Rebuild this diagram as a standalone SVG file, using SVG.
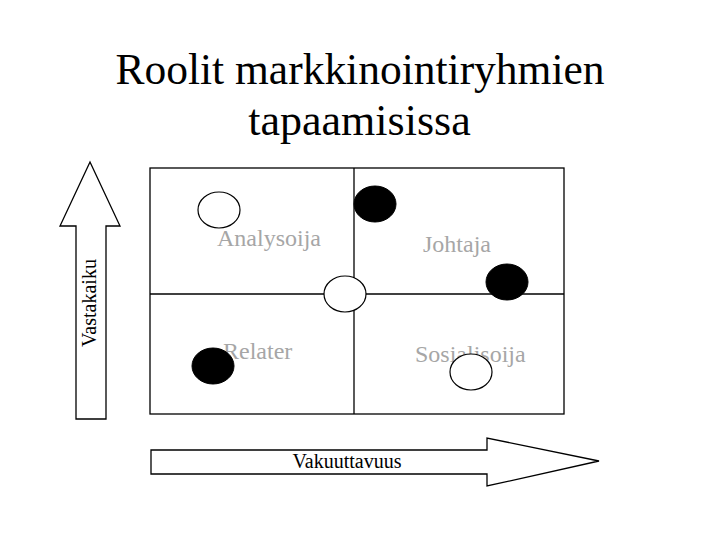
<svg xmlns="http://www.w3.org/2000/svg" width="720" height="540" viewBox="0 0 720 540">
<style>
.title{font-family:"Liberation Serif","Times New Roman",serif;font-size:44px;fill:#000;text-anchor:middle}
.lbl{font-family:"Liberation Serif","Times New Roman",serif;font-size:24px;fill:#a6a6a6}
.ax{font-family:"Liberation Serif","Times New Roman",serif;font-size:20px;fill:#000;text-anchor:middle}
.ln{fill:none;stroke:#000;stroke-width:1.3}
.arr{fill:#fff;stroke:#000;stroke-width:1.3}
.open{fill:#fff;stroke:#000;stroke-width:1.2}
.solid{fill:#000;stroke:#000;stroke-width:1}
</style>
<rect width="720" height="540" fill="#fff"/>
<g id="title">
<text class="title" x="360" y="84" textLength="489" lengthAdjust="spacingAndGlyphs">Roolit markkinointiryhmien</text>
<text class="title" x="359.5" y="135">tapaamisissa</text>
</g>
<g id="axis-y">
<polygon class="arr" points="90,162 120,226 106,226 106,419 76,419 76,226 60,226"/>
<text class="ax" transform="translate(96,303) rotate(-90)" x="0" y="0">Vastakaiku</text>
</g>
<g id="axis-x">
<polygon class="arr" points="151,450 487,450 487,438 599,461 487,486 487,474 151,474"/>
<text class="ax" x="347" y="468">Vakuuttavuus</text>
</g>
<g id="grid">
<rect class="ln" x="150" y="168" width="414" height="246"/>
<line class="ln" x1="354" y1="168" x2="354" y2="414"/>
<line class="ln" x1="150" y1="294" x2="564" y2="294"/>
</g>
<g id="quadrant-analysoija">
<text class="lbl" x="217" y="246">Analysoija</text>
<ellipse class="open" cx="219" cy="210" rx="21" ry="18"/>
</g>
<g id="quadrant-johtaja">
<text class="lbl" x="423" y="252">Johtaja</text>
<ellipse class="solid" cx="375" cy="204" rx="21" ry="18"/>
<ellipse class="solid" cx="507" cy="282" rx="21" ry="18"/>
</g>
<g id="quadrant-relater">
<text class="lbl" x="223" y="359">Relater</text>
<ellipse class="solid" cx="213" cy="366" rx="21" ry="18"/>
</g>
<g id="quadrant-sosialisoija">
<text class="lbl" x="415" y="362">Sosialisoija</text>
<ellipse class="open" cx="471" cy="372" rx="21" ry="18"/>
</g>
<g id="center-node">
<ellipse class="open" cx="345" cy="294" rx="21" ry="18"/>
</g>
</svg>
